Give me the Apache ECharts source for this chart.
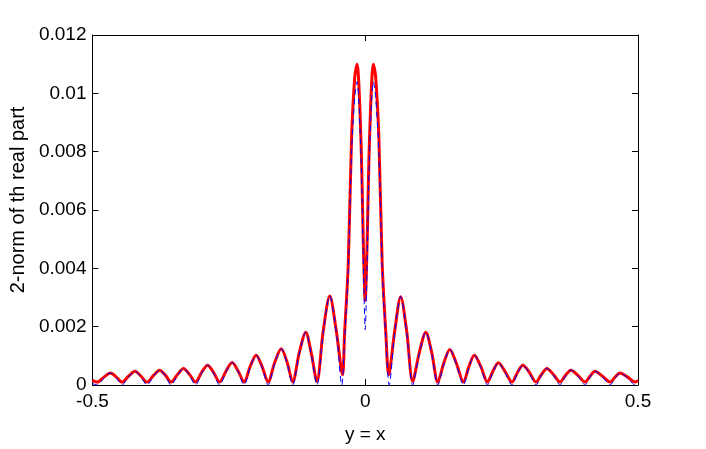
<!DOCTYPE html>
<html>
<head>
<meta charset="UTF-8">
<title></title>
<script type="text/javascript" src="https://cdn.jsdelivr.net/npm/echarts@6/dist/echarts.min.js"></script>
<style type="text/css">
	* { padding: 0; margin: 0; }
	body { background: #fff; }
	#main { width: 706px; height: 449px; }
</style>
</head>
<body>
<div id="main"></div>
<script type="text/javascript">
// x ticks and y ticks
var xTicks = [-0.5, 0, 0.5];
var yTicks = [0, 0.002, 0.004, 0.006, 0.008, 0.01, 0.012];

// red solid curve, [x, value]
var redPts = [
	[-0.5, 0.00016], [-0.491, 0.0001], [-0.479, 0.00027], [-0.467, 0.00041], [-0.456, 0.00027],
	[-0.446, 0.0001], [-0.434, 0.0003], [-0.422, 0.00047], [-0.411, 0.0003],
	[-0.400, 0.0001], [-0.388, 0.00033], [-0.377, 0.00051], [-0.366, 0.00033],
	[-0.356, 0.0001], [-0.344, 0.00036], [-0.333, 0.00057], [-0.322, 0.00036],
	[-0.311, 0.0001], [-0.300, 0.00043], [-0.289, 0.00068], [-0.278, 0.00043],
	[-0.267, 0.0001], [-0.255, 0.00048], [-0.244, 0.00077], [-0.233, 0.00048],
	[-0.222, 0.0001], [-0.211, 0.00063], [-0.200, 0.00102], [-0.189, 0.00063],
	[-0.178, 0.0001], [-0.166, 0.00077], [-0.154, 0.00124], [-0.143, 0.00077],
	[-0.133, 0.0001], [-0.121, 0.0011], [-0.109, 0.00181], [-0.099, 0.0011],
	[-0.0885, 0.00012], [-0.077, 0.00185], [-0.065, 0.00305], [-0.053, 0.00185],
	[-0.0415, 0.00035], [-0.038, 0.0017], [-0.031, 0.0042], [-0.025, 0.0085], [-0.019, 0.0106],
	[-0.015, 0.011], [-0.008, 0.0085], [-0.003, 0.0045], [0, 0.0029],
	[0.003, 0.0045], [0.008, 0.0085], [0.015, 0.011], [0.019, 0.0106], [0.025, 0.0085],
	[0.031, 0.0042], [0.038, 0.0017], [0.043, 0.00035],
	[0.054, 0.00185], [0.065, 0.00303], [0.076, 0.00185], [0.087, 0.00012],
	[0.099, 0.0011], [0.111, 0.00181], [0.122, 0.0011], [0.133, 0.0001],
	[0.144, 0.00075], [0.155, 0.00122], [0.167, 0.00075], [0.180, 0.0001],
	[0.190, 0.00063], [0.200, 0.00102], [0.212, 0.00063], [0.224, 0.0001],
	[0.234, 0.00047], [0.244, 0.00076], [0.256, 0.00047], [0.269, 0.0001],
	[0.279, 0.00043], [0.289, 0.00068], [0.301, 0.00043], [0.313, 0.0001],
	[0.323, 0.00036], [0.333, 0.00057], [0.345, 0.00036], [0.357, 0.0001],
	[0.367, 0.00033], [0.377, 0.00051], [0.390, 0.00033], [0.403, 0.0001],
	[0.412, 0.0003], [0.421, 0.00047], [0.435, 0.0003], [0.449, 0.0001],
	[0.458, 0.00027], [0.467, 0.00041], [0.481, 0.00027], [0.495, 0.0001], [0.5, 0.00016]
];

// blue dashed curve
var bluePts = [
	[-0.5, 0.00005], [-0.491, 0], [-0.479, 0.00024], [-0.467, 0.00041], [-0.456, 0.00024],
	[-0.446, 0], [-0.434, 0.00027], [-0.422, 0.00047], [-0.411, 0.00027],
	[-0.400, 0], [-0.388, 0.0003], [-0.377, 0.00051], [-0.366, 0.0003],
	[-0.356, 0], [-0.344, 0.00033], [-0.333, 0.00057], [-0.322, 0.00033],
	[-0.311, 0], [-0.300, 0.0004], [-0.289, 0.00068], [-0.278, 0.0004],
	[-0.267, 0], [-0.255, 0.00045], [-0.244, 0.00077], [-0.233, 0.00045],
	[-0.222, 0], [-0.211, 0.0006], [-0.200, 0.00102], [-0.189, 0.0006],
	[-0.178, 0], [-0.166, 0.00073], [-0.154, 0.00124], [-0.143, 0.00073],
	[-0.133, 0], [-0.121, 0.00106], [-0.109, 0.00181], [-0.099, 0.00106],
	[-0.0885, 0], [-0.077, 0.0018], [-0.065, 0.00305], [-0.053, 0.0018],
	[-0.043, 0], [-0.038, 0.0015], [-0.031, 0.004], [-0.025, 0.008], [-0.019, 0.0099],
	[-0.015, 0.0104], [-0.008, 0.008], [-0.003, 0.0038], [0, 0.0019],
	[0.003, 0.0038], [0.008, 0.008], [0.015, 0.0104], [0.019, 0.0099], [0.025, 0.008],
	[0.031, 0.004], [0.038, 0.0015], [0.044, 0],
	[0.054, 0.0018], [0.065, 0.00303], [0.076, 0.0018], [0.087, 0],
	[0.099, 0.00106], [0.111, 0.00181], [0.122, 0.00106], [0.133, 0],
	[0.144, 0.00071], [0.155, 0.00122], [0.167, 0.00071], [0.180, 0],
	[0.190, 0.0006], [0.200, 0.00102], [0.212, 0.0006], [0.224, 0],
	[0.234, 0.00044], [0.244, 0.00076], [0.256, 0.00044], [0.269, 0],
	[0.279, 0.0004], [0.289, 0.00068], [0.301, 0.0004], [0.313, 0],
	[0.323, 0.00033], [0.333, 0.00057], [0.345, 0.00033], [0.357, 0],
	[0.367, 0.0003], [0.377, 0.00051], [0.390, 0.0003], [0.403, 0],
	[0.412, 0.00027], [0.421, 0.00047], [0.435, 0.00027], [0.449, 0],
	[0.458, 0.00024], [0.467, 0.00041], [0.481, 0.00024], [0.495, 0], [0.5, 0.00005]
];

var myChart = echarts.init(document.getElementById('main'));
var font = 'Liberation Sans';

function xAx(pos, showLabel) {
	return {
		type: 'value', position: pos, min: xTicks[0], max: xTicks[xTicks.length - 1],
		interval: xTicks[1] - xTicks[0],
		axisLine: { show: true, onZero: false, lineStyle: { color: '#000', width: 1 } },
		axisTick: { show: true, inside: true, length: 6, lineStyle: { color: '#000' } },
		axisLabel: { show: showLabel, color: '#000', fontSize: 19, fontFamily: font, margin: 7 },
		splitLine: { show: false }
	};
}
function yAx(pos, showLabel) {
	return {
		type: 'value', position: pos, min: yTicks[0], max: yTicks[yTicks.length - 1],
		interval: yTicks[1] - yTicks[0],
		axisLine: { show: true, onZero: false, lineStyle: { color: '#000', width: 1 } },
		axisTick: { show: true, inside: true, length: 6, lineStyle: { color: '#000' } },
		axisLabel: { show: showLabel, color: '#000', fontSize: 19, fontFamily: font, margin: 6 },
		splitLine: { show: false }
	};
}

var xa = xAx('bottom', true);
xa.name = 'y = x';
xa.nameLocation = 'middle';
xa.nameGap = 40;
xa.nameTextStyle = { color: '#000', fontSize: 19, fontFamily: font };
var ya = yAx('left', true);
ya.name = '2-norm of th real part';
ya.nameLocation = 'middle';
ya.nameGap = 64;
ya.nameTextStyle = { color: '#000', fontSize: 20, fontFamily: font, padding: [0, 0, 0, 20] };

myChart.setOption({
	animation: false,
	backgroundColor: '#fff',
	grid: { left: 92, right: 68, top: 35, bottom: 56, show: false },
	xAxis: [xa, xAx('top', false)],
	yAxis: [ya, yAx('right', false)],
	series: [{
		type: 'line',
		data: redPts,
		smooth: 0.3,
		showSymbol: false,
		lineStyle: { color: '#ff0000', width: 3 }
	}, {
		type: 'line',
		data: bluePts,
		smooth: 0.3,
		showSymbol: false,
		lineStyle: { color: '#0000ff', width: 1, type: [6, 4] }
	}]
});
</script>
</body>
</html>
